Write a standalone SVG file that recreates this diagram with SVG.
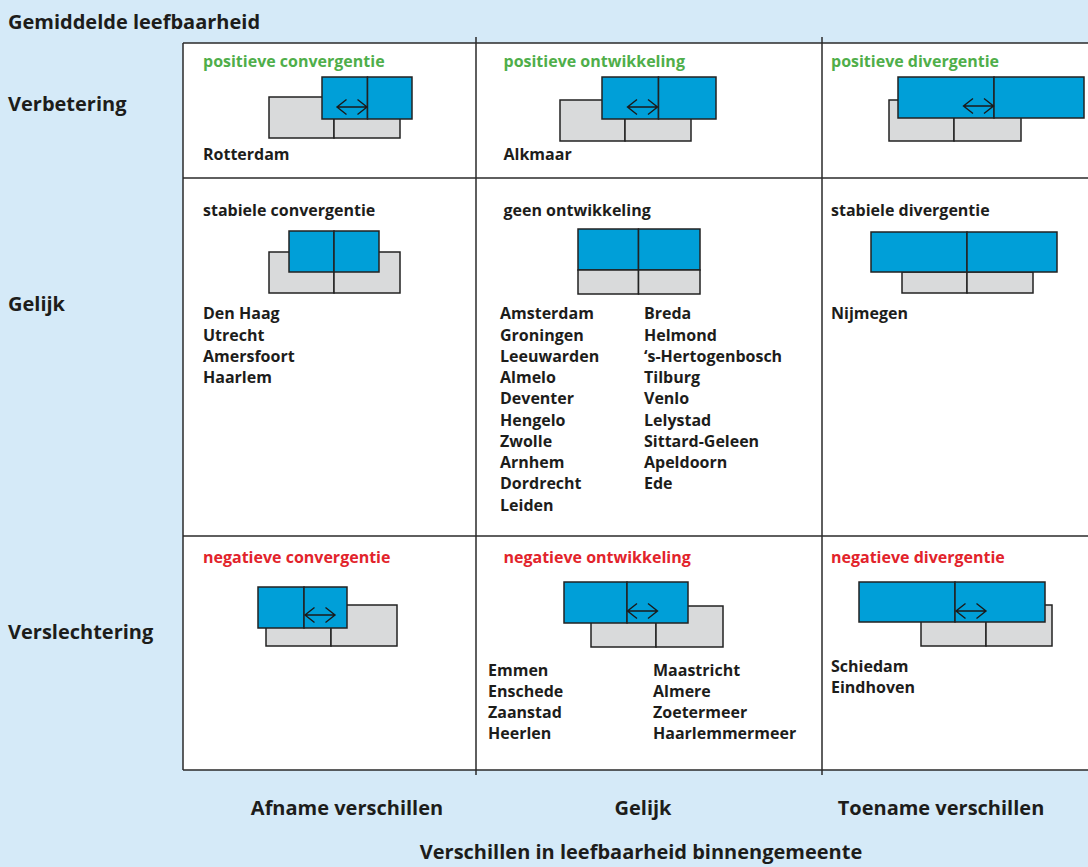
<svg xmlns="http://www.w3.org/2000/svg" width="1088" height="867" viewBox="0 0 1088 867">
<style>
text{font-family:"Open Sans","Liberation Sans",sans-serif;font-weight:700;fill:#1d1d1b}
.lbl{font-size:20px}
.t{font-size:16px}
.g{fill:#4fae4a}
.r{fill:#e2232b}
.grid{stroke:#2b2b2b;stroke-width:1.5;fill:none}
.bl{fill:#009fd8;stroke:#222;stroke-width:1.5}
.gr{fill:#d9dadb;stroke:#222;stroke-width:1.5}
.ar{stroke:#1a1a1a;stroke-width:1.4;fill:none}
</style>
<defs>
<path id="arrow" class="ar" d="M0,0 H30 M9.5,-7.5 L0,0 L9.5,7.5 M20.5,-7.5 L30,0 L20.5,7.5"/>
</defs>
<rect x="0" y="0" width="1088" height="867" fill="#d5eaf8"/>
<rect x="183" y="43" width="910" height="727" fill="#fff"/>
<g id="grid" class="grid">
<path d="M183,43 H1088 M183,178 H1088 M183,536 H1088 M183,770 H1088 M183,43 V770 M476,37 V775 M822,37 V775"/>
</g>
<g id="axis-labels">
<text class="lbl" x="8" y="29">Gemiddelde leefbaarheid</text>
<text class="lbl" x="8" y="111">Verbetering</text>
<text class="lbl" x="8" y="311">Gelijk</text>
<text class="lbl" x="8" y="639">Verslechtering</text>
<text class="lbl" x="347" y="815" text-anchor="middle">Afname verschillen</text>
<text class="lbl" x="643" y="815" text-anchor="middle">Gelijk</text>
<text class="lbl" x="941" y="815" text-anchor="middle">Toename verschillen</text>
<text class="lbl" x="641" y="859" text-anchor="middle">Verschillen in leefbaarheid binnengemeente</text>
</g>
<g id="positieve-convergentie">
<text class="t g" x="203" y="67">positieve convergentie</text>
<rect class="gr" x="269" y="97" width="65" height="41"/><rect class="gr" x="334" y="97" width="66" height="41"/>
<rect class="bl" x="322" y="77" width="45.5" height="42"/><rect class="bl" x="367.5" y="77" width="44.5" height="42"/>
<use href="#arrow" x="337" y="107"/>
<text class="t" x="203" y="160">Rotterdam</text>
</g>
<g id="positieve-ontwikkeling">
<text class="t g" x="503.5" y="67">positieve ontwikkeling</text>
<rect class="gr" x="560" y="100" width="65" height="41"/><rect class="gr" x="625" y="100" width="66" height="41"/>
<rect class="bl" x="602" y="77" width="56.5" height="42"/><rect class="bl" x="658.5" y="77" width="57.5" height="42"/>
<use href="#arrow" x="627.5" y="107"/>
<text class="t" x="503.5" y="160">Alkmaar</text>
</g>
<g id="positieve-divergentie">
<text class="t g" x="831" y="67">positieve divergentie</text>
<rect class="gr" x="889" y="100" width="65" height="41"/><rect class="gr" x="954" y="100" width="67" height="41"/>
<rect class="bl" x="898" y="77" width="96" height="41"/><rect class="bl" x="994" y="77" width="90" height="41"/>
<use href="#arrow" x="963.5" y="106"/>
</g>
<g id="stabiele-convergentie">
<text class="t" x="203" y="216">stabiele convergentie</text>
<rect class="gr" x="269" y="252" width="65" height="41"/><rect class="gr" x="334" y="252" width="66" height="41"/>
<rect class="bl" x="289" y="231" width="45" height="41"/><rect class="bl" x="334" y="231" width="45" height="41"/>
<text class="t" x="203" y="319">Den Haag</text>
<text class="t" x="203" y="340.5">Utrecht</text>
<text class="t" x="203" y="361.5">Amersfoort</text>
<text class="t" x="203" y="382.5">Haarlem</text>
</g>
<g id="geen-ontwikkeling">
<text class="t" x="503.5" y="216">geen ontwikkeling</text>
<rect class="bl" x="578" y="229" width="60.5" height="41"/><rect class="bl" x="638.5" y="229" width="61.5" height="41"/>
<rect class="gr" x="578" y="270" width="60.5" height="24"/><rect class="gr" x="638.5" y="270" width="61.5" height="24"/>
<text class="t" x="500" y="319.3">Amsterdam</text>
<text class="t" x="500" y="340.6">Groningen</text>
<text class="t" x="500" y="361.8">Leeuwarden</text>
<text class="t" x="500" y="383.1">Almelo</text>
<text class="t" x="500" y="404.4">Deventer</text>
<text class="t" x="500" y="425.6">Hengelo</text>
<text class="t" x="500" y="446.9">Zwolle</text>
<text class="t" x="500" y="468.2">Arnhem</text>
<text class="t" x="500" y="489.4">Dordrecht</text>
<text class="t" x="500" y="510.7">Leiden</text>
<text class="t" x="644" y="319.3">Breda</text>
<text class="t" x="644" y="340.6">Helmond</text>
<text class="t" x="644" y="361.8">‘s-Hertogenbosch</text>
<text class="t" x="644" y="383.1">Tilburg</text>
<text class="t" x="644" y="404.4">Venlo</text>
<text class="t" x="644" y="425.6">Lelystad</text>
<text class="t" x="644" y="446.9">Sittard-Geleen</text>
<text class="t" x="644" y="468.2">Apeldoorn</text>
<text class="t" x="644" y="489.4">Ede</text>
</g>
<g id="stabiele-divergentie">
<text class="t" x="831" y="216">stabiele divergentie</text>
<rect class="gr" x="902" y="272" width="65" height="21"/><rect class="gr" x="967" y="272" width="66" height="21"/>
<rect class="bl" x="871" y="232" width="96" height="40"/><rect class="bl" x="967" y="232" width="90" height="40"/>
<text class="t" x="831" y="319">Nijmegen</text>
</g>
<g id="negatieve-convergentie">
<text class="t r" x="203" y="563">negatieve convergentie</text>
<rect class="gr" x="266" y="605" width="65" height="41"/><rect class="gr" x="331" y="605" width="66" height="41"/>
<rect class="bl" x="258" y="587" width="46" height="41"/><rect class="bl" x="304" y="587" width="43" height="41"/>
<use href="#arrow" x="305" y="615"/>
</g>
<g id="negatieve-ontwikkeling">
<text class="t r" x="503.5" y="563">negatieve ontwikkeling</text>
<rect class="gr" x="591" y="606" width="65" height="41"/><rect class="gr" x="656" y="606" width="67" height="41"/>
<rect class="bl" x="564" y="582" width="63" height="41"/><rect class="bl" x="627" y="582" width="61" height="41"/>
<use href="#arrow" x="627.5" y="611"/>
<text class="t" x="488" y="675.7">Emmen</text>
<text class="t" x="488" y="696.9">Enschede</text>
<text class="t" x="488" y="718.1">Zaanstad</text>
<text class="t" x="488" y="739.3">Heerlen</text>
<text class="t" x="653" y="675.7">Maastricht</text>
<text class="t" x="653" y="696.9">Almere</text>
<text class="t" x="653" y="718.1">Zoetermeer</text>
<text class="t" x="653" y="739.3">Haarlemmermeer</text>
</g>
<g id="negatieve-divergentie">
<text class="t r" x="831" y="563">negatieve divergentie</text>
<rect class="gr" x="921" y="605" width="65" height="41"/><rect class="gr" x="986" y="605" width="66" height="41"/>
<rect class="bl" x="859" y="582" width="96" height="40"/><rect class="bl" x="955" y="582" width="90" height="40"/>
<use href="#arrow" x="956" y="611"/>
<text class="t" x="831" y="671.7">Schiedam</text>
<text class="t" x="831" y="693.3">Eindhoven</text>
</g>
</svg>
